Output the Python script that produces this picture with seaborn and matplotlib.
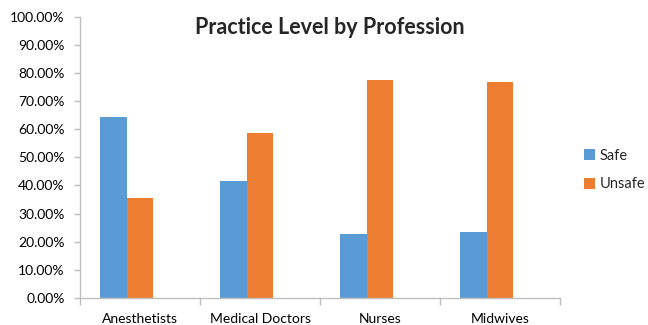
import matplotlib
matplotlib.use("Agg")
import matplotlib.pyplot as plt
import matplotlib.ticker as mticker
from matplotlib.patches import Patch
import pandas as pd
import seaborn as sns

professions = ["Anesthetists", "Medical Doctors", "Nurses", "Midwives"]
safe = [64.3, 41.5, 22.6, 23.4]
unsafe = [35.7, 58.5, 77.4, 76.6]
series = ["Safe", "Unsafe"]
colors = {"Safe": "#5B9BD5", "Unsafe": "#ED7D31", "": "#FFFFFF"}

df = pd.DataFrame({
    "Profession": professions * 2,
    "Share": safe + unsafe,
    "Level": ["Safe"] * len(professions) + ["Unsafe"] * len(professions),
})

sns.set_theme(style="white")
plt.rcParams["font.family"] = ["Lato", "DejaVu Sans"]

fig = plt.figure(figsize=(6.48, 3.25), dpi=100)
ax = fig.add_axes([80 / 648, 1 - 298 / 325, 480 / 648, (298 - 16.5) / 325])

# third, empty slot keeps the clustered layout of a three-series chart
sns.barplot(data=df, x="Profession", y="Share", hue="Level",
            hue_order=["Safe", "Unsafe", ""], order=professions,
            palette=colors, width=2 / 3, saturation=1, ax=ax,
            legend=False, linewidth=0)

ax.set_ylim(0, 100)
ax.set_xlim(-0.5, len(professions) - 0.5)
ax.yaxis.set_major_locator(mticker.MultipleLocator(10))
ax.yaxis.set_major_formatter(mticker.FuncFormatter(lambda v, p: f"{v:.2f}%"))
ax.set_xlabel("")
ax.set_ylabel("")

for s in ["top", "right"]:
    ax.spines[s].set_visible(False)
for s in ["left", "bottom"]:
    ax.spines[s].set_color("#BFBFBF")
    ax.spines[s].set_linewidth(1)

ax.tick_params(axis="y", which="major", left=True, length=4, width=1,
               color="#BFBFBF", labelsize=10, pad=7, labelcolor="#000000")
ax.tick_params(axis="x", which="major", bottom=False, labelsize=10,
               pad=5, labelcolor="#000000")
ax.set_xticks([i - 0.5 for i in range(len(professions) + 1)], minor=True)
ax.tick_params(axis="x", which="minor", bottom=True, length=5, width=1,
               color="#BFBFBF")

fig.text(330 / 648, 1 - 28 / 325, "Practice Level by Profession",
         ha="center", va="center", fontsize=15.5, fontweight="bold")

handles = [Patch(facecolor=colors[s], edgecolor="none") for s in series]
fig.legend(handles, series, loc="center left",
           bbox_to_anchor=(584 / 648, 1 - 170 / 325), frameon=False,
           borderpad=0, borderaxespad=0,
           fontsize=10.5, handlelength=0.75, handleheight=0.75,
           handletextpad=0.3, labelspacing=1.0)

fig.savefig("out.png", dpi=100)
